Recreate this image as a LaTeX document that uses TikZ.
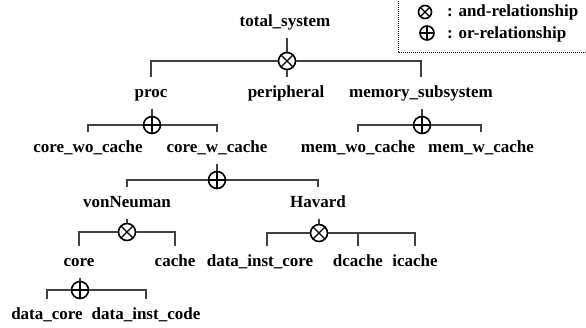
\documentclass[tikz,border=0pt]{standalone}
\usepackage{fontspec}
\setmainfont{Liberation Serif}
\begin{document}
\begin{tikzpicture}[x=1pt,y=-1pt,
  lbl/.style={inner sep=0pt, text height=12pt, text depth=4pt, minimum height=31pt,
    font=\fontsize{17}{20}\selectfont\bfseries},
  leg/.style={inner sep=0pt, anchor=west, font=\fontsize{17}{20}\selectfont\bfseries},
  opbase/.style={circle, draw=black, line width=1.6pt, minimum size=17pt, inner sep=0pt, fill=white},
  andop/.style={opbase, path picture={\draw[line width=1.3pt]
      (path picture bounding box.north west) -- (path picture bounding box.south east)
      (path picture bounding box.north east) -- (path picture bounding box.south west);}},
  orop/.style={opbase, path picture={\draw[line width=1.5pt]
      (path picture bounding box.north) -- (path picture bounding box.south)
      (path picture bounding box.west) -- (path picture bounding box.east);}},
  conn/.style={draw=black!75, line width=1.2pt},
]
\useasboundingbox[fill=white] (0,0) rectangle (586,327);

% legend
\draw[dash pattern=on 1pt off 1pt, line width=1pt] (398,-5) -- (398,52) -- (590,52);
\node[andop, minimum size=13pt] (lgand) at (425,12) {};
\node[orop, minimum size=14pt] (lgor) at (427,33) {};
\node[leg] (lgandt) at (447,12) {: and-relationship};
\node[leg] (lgort) at (447,34) {: or-relationship};

% nodes
\node[lbl] (ts) at (285,22) {total\_system};
\node[andop] (and1) at (287,61) {};
\node[lbl] (proc) at (151,93) {proc};
\node[lbl] (peri) at (286,93) {peripheral};
\node[lbl] (mem) at (421,93) {memory\_subsystem};
\node[orop] (or1) at (152,125) {};
\node[lbl] (cwo) at (88,148) {core\_wo\_cache};
\node[lbl] (cw) at (217,148) {core\_w\_cache};
\node[orop] (or2) at (422,125) {};
\node[lbl] (mwo) at (358,148) {mem\_wo\_cache};
\node[lbl] (mw) at (481,148) {mem\_w\_cache};
\node[orop] (or3) at (217,180) {};
\node[lbl] (von) at (127,203) {vonNeuman};
\node[lbl] (hav) at (318,203) {Havard};
\node[andop] (and2) at (127,232) {};
\node[lbl] (core) at (79,262) {core};
\node[lbl] (cache) at (175,262) {cache};
\node[andop] (and3) at (319,233) {};
\node[lbl] (dic) at (260,262) {data\_inst\_core};
\node[lbl] (dc) at (358,262) {dcache};
\node[lbl] (ic) at (415,262) {icache};
\node[orop] (or4) at (80,290) {};
\node[lbl] (dcore) at (47,315) {data\_core};
\node[lbl] (dicode) at (146,315) {data\_inst\_code};

% connectors
\path[conn] (and1.north |- ts.south) -- (and1.north);
\path[conn] (and1.south) -- (and1.south |- peri.north);
\path[conn] (proc.north) |- (and1.west);
\path[conn] (mem.north) |- (and1.east);

\path[conn] (or1.north |- proc.south) -- (or1.north);
\path[conn] (cwo.north) |- (or1.west);
\path[conn] (cw.north) |- (or1.east);

\path[conn] (or2.north |- mem.south) -- (or2.north);
\path[conn] (mwo.north) |- (or2.west);
\path[conn] (mw.north) |- (or2.east);

\path[conn] (or3.north |- cw.south) -- (or3.north);
\path[conn] (von.north) |- (or3.west);
\path[conn] (hav.north) |- (or3.east);

\path[conn] (and2.north |- von.south) -- (and2.north);
\path[conn] (core.north) |- (and2.west);
\path[conn] (cache.north) |- (and2.east);

\path[conn] (and3.north |- hav.south) -- (and3.north);
\path[conn] ([xshift=7pt]dic.north) |- (and3.west);
\path[conn] (ic.north) |- (and3.east);
\path[conn] (dc.north) -- (dc.north |- and3.east);

\path[conn] (or4.north |- core.south) -- (or4.north);
\path[conn] (dcore.north) |- (or4.west);
\path[conn] (dicode.north) |- (or4.east);
\end{tikzpicture}
\end{document}
